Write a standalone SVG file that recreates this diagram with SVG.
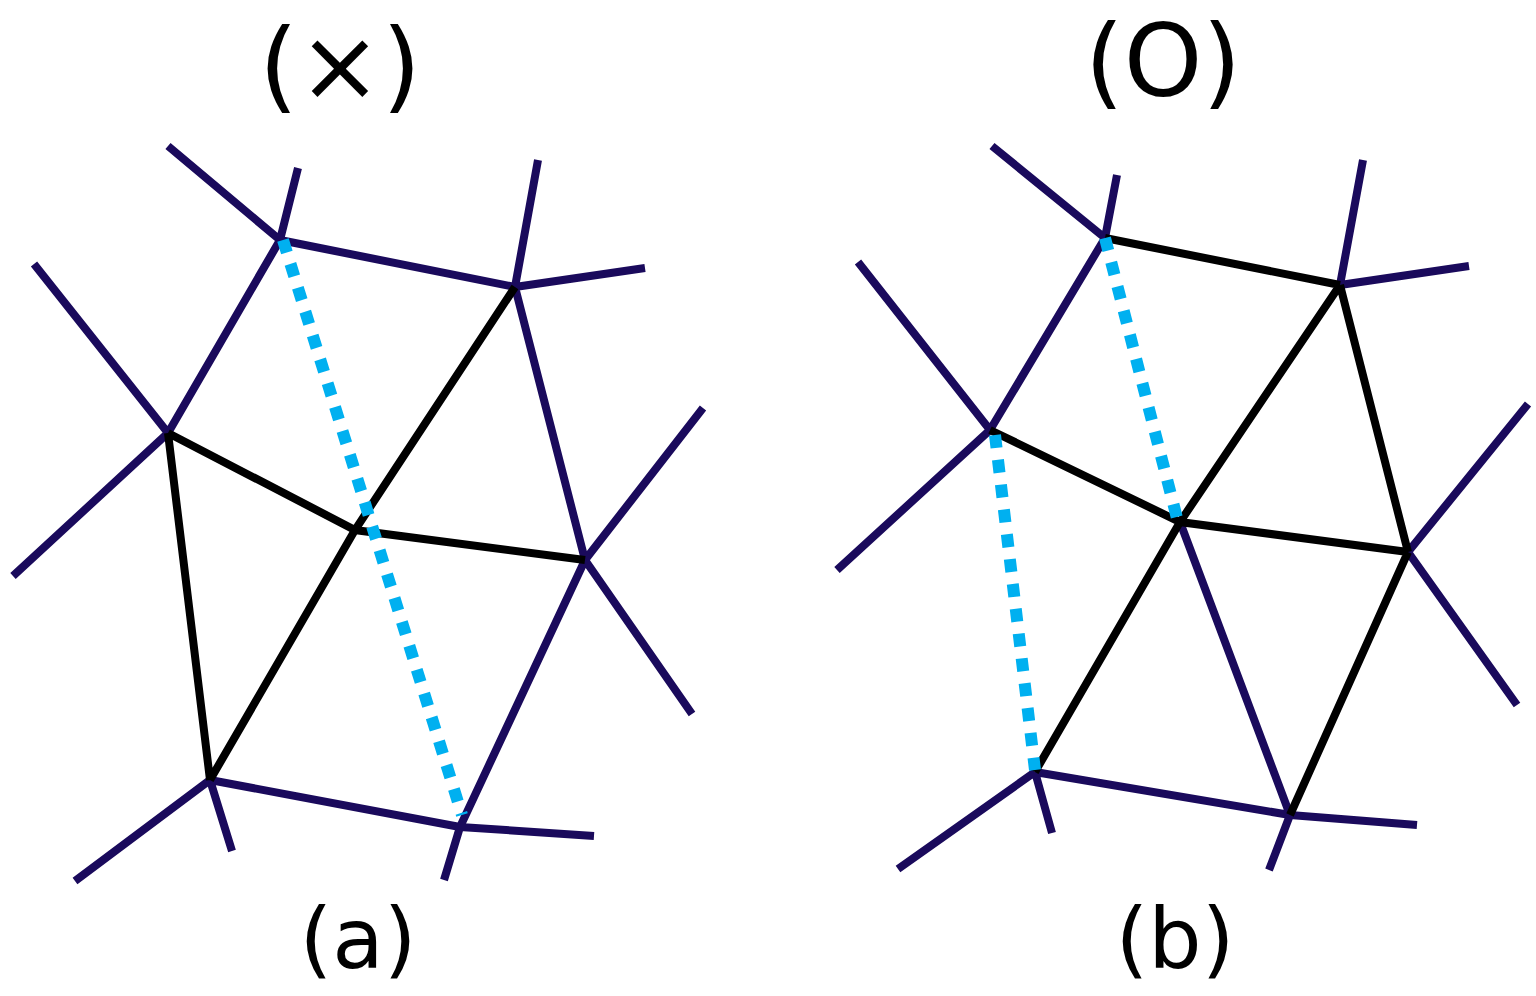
<svg xmlns="http://www.w3.org/2000/svg" width="1536" height="996" viewBox="0 0 1536 996">
<style>
.n{stroke:#1a0a5c;stroke-width:8;fill:none}
.k{stroke:#000;stroke-width:8;fill:none}
.d{stroke:#00b0f0;stroke-width:12;stroke-dasharray:13 12;fill:none}
.t{font-family:"DejaVu Sans","Liberation Sans",sans-serif;fill:#000;text-anchor:middle}
</style>
<rect width="1536" height="996" fill="#fff"/>
<g id="left">
<path class="n" d="M280,240L168,146M280,240L298,168M280,240L515,287M515,287L538,160M515,287L645,268M280,240L168,433M168,433L34,264M168,433L13,576M515,287L585,560M585,560L703,408M585,560L692,714M585,560L460,827M460,827L444,880M460,827L594,836M210,780L460,827M210,780L75,881M210,780L232,851"/>
<path class="k" d="M515,287L355,530L210,780M168,433L355,530L585,560M168,433L210,780"/>
<path class="d" d="M283,240L462,815"/>
</g>
<g id="right">
<path class="n" d="M1105,238L992,146M1105,238L1117,175M1105,238L990,430M990,430L858,262M990,430L837,570M1340,285L1363,160M1340,285L1469,266M1408,552L1528,404M1408,552L1517,705M1180,522L1290,815M1290,815L1269,870M1290,815L1417,825M1035,772L1290,815M1035,772L898,869M1035,772L1052,833"/>
<path class="k" d="M1105,238L1340,285M1340,285L1180,522L1035,772M990,430L1180,522L1408,552M1340,285L1408,552M1408,552L1290,815"/>
<path class="d" d="M1105,238L1178,522M995,435L1035,770"/>
</g>
<text class="t" x="340" y="100" font-size="100">(×)</text>
<text class="t" x="1163" y="96" font-size="100">(O)</text>
<text class="t" x="358" y="968" font-size="84">(a)</text>
<text class="t" x="1175" y="968" font-size="84">(b)</text>
</svg>
